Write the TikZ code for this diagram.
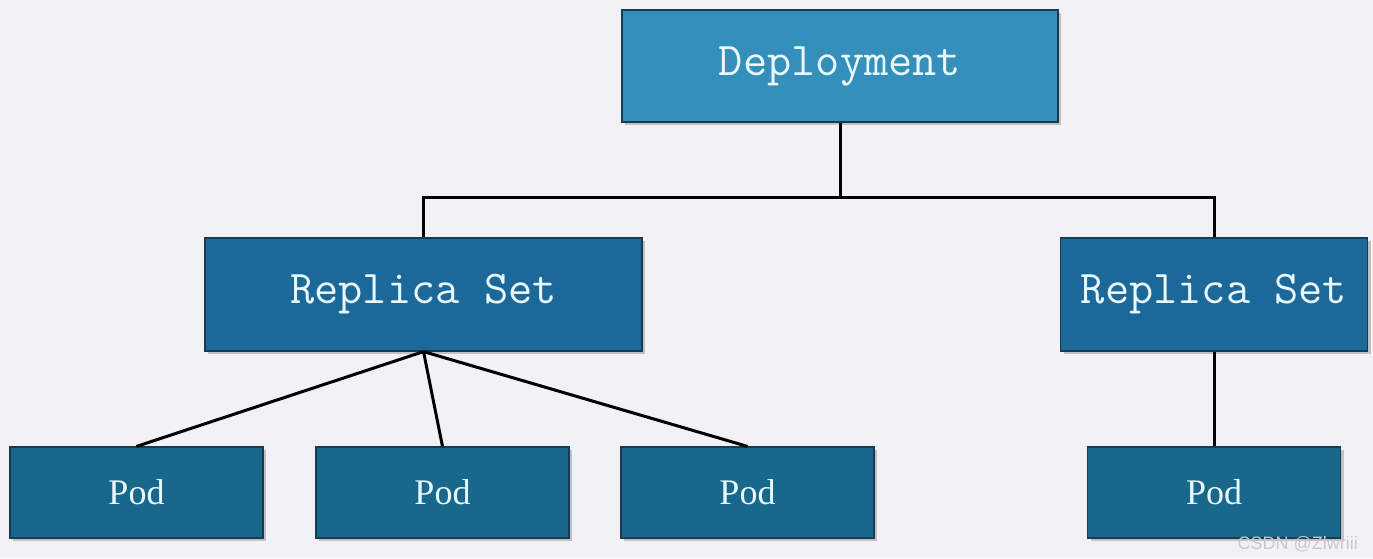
\documentclass[tikz,border=0pt]{standalone}
\usepackage{fontspec}
\setmainfont{Liberation Serif}
\newfontfamily\wmfont{Liberation Sans}
\usetikzlibrary{shadows}
\definecolor{bg}{RGB}{242,242,246}
\definecolor{depfill}{RGB}{52,144,186}
\definecolor{rsfill}{RGB}{28,104,152}
\definecolor{podfill}{RGB}{25,103,138}
\definecolor{edge}{RGB}{22,60,84}
\definecolor{txt}{RGB}{232,248,255}
\definecolor{wmcol}{RGB}{200,200,206}
\tikzset{
  box/.style={draw=edge, line width=1.2pt, text=txt, inner sep=0pt,
    drop shadow={shadow xshift=3pt, shadow yshift=-3pt, opacity=0.35, fill=black!60}},
  depbox/.style={box, fill=depfill, minimum width=436pt, minimum height=112pt,
    font=\ttfamily\fontsize{47}{47}\selectfont},
  rsbox/.style={box, fill=rsfill, minimum height=113pt,
    font=\ttfamily\fontsize{47}{47}\selectfont},
  podbox/.style={box, fill=podfill, minimum width=253pt, minimum height=91pt,
    font=\fontsize{36}{36}\selectfont},
  link/.style={line width=3pt, black}
}
\begin{document}
\begin{tikzpicture}[x=1pt,y=-1pt]
\fill[bg] (0,0) rectangle (1373,558);
\useasboundingbox (0,0) rectangle (1373,558);
\coordinate (bus) at (840,197);
\node[depbox] (dep) at (840,66) {Deployment};
\node[rsbox, minimum width=437pt] (rs1) at (423.5,294.5) {Replica Set};
\node[rsbox, minimum width=307pt] (rs2) at (1214,294.5) {Replica Set};
\node[podbox] (p1) at (136.5,492.5) {Pod};
\node[podbox] (p2) at (442.5,492.5) {Pod};
\node[podbox] (p3) at (747.5,492.5) {Pod};
\node[podbox] (p4) at (1214,492.5) {Pod};
\draw[link] (dep.south) -- (bus) -| (rs1.north);
\draw[link] (bus) -| (rs2.north);
\draw[link] (rs1.south) -- (p1.north);
\draw[link] (rs1.south) -- (p2.north);
\draw[link] (rs1.south) -- (p3.north);
\draw[link] (rs2.south) -- (p4.north);
\node[font=\wmfont\fontsize{18}{18}\selectfont, text=wmcol, anchor=base east,
  inner sep=0pt] (wm) at (1358,549) {CSDN @Zlwriii};
\end{tikzpicture}
\end{document}
